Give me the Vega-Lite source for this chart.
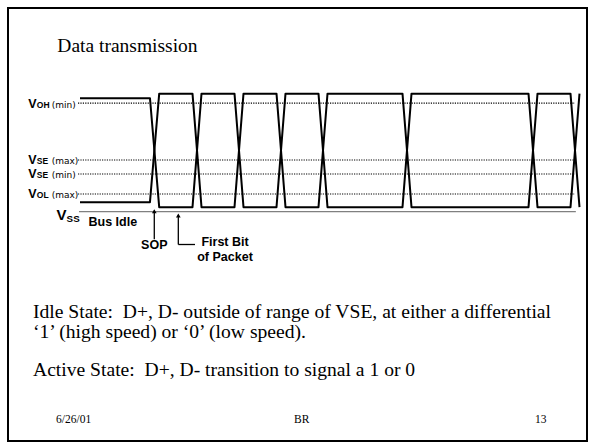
{
 "$schema": "https://vega.github.io/schema/vega-lite/v6.json",
 "width": 579,
 "height": 433,
 "autosize": {"type": "none"},
 "padding": {"left": 8, "top": 8, "right": 5, "bottom": 3},
 "background": "white",
 "config": {"view": {"stroke": "black", "strokeWidth": 2}},
 "datasets": {
  "wave": [
   {"w": "D+", "t": -1.786, "v": 11.35}, {"w": "D+", "t": -0.12, "v": 11.35}, {"w": "D+", "t": 0.1, "v": 0.45},
   {"w": "D+", "t": 0.893, "v": 0.45}, {"w": "D+", "t": 1.107, "v": 11.8}, {"w": "D+", "t": 1.893, "v": 11.8},
   {"w": "D+", "t": 2.107, "v": 0.45}, {"w": "D+", "t": 2.893, "v": 0.45}, {"w": "D+", "t": 3.107, "v": 11.8},
   {"w": "D+", "t": 3.893, "v": 11.8}, {"w": "D+", "t": 4.107, "v": 0.45}, {"w": "D+", "t": 5.893, "v": 0.45},
   {"w": "D+", "t": 6.107, "v": 11.8}, {"w": "D+", "t": 8.893, "v": 11.8}, {"w": "D+", "t": 9.107, "v": 0.45},
   {"w": "D+", "t": 9.893, "v": 0.45}, {"w": "D+", "t": 10.107, "v": 11.8},
   {"w": "D-", "t": -1.786, "v": 0.95}, {"w": "D-", "t": -0.12, "v": 0.95}, {"w": "D-", "t": 0.1, "v": 11.8},
   {"w": "D-", "t": 0.893, "v": 11.8}, {"w": "D-", "t": 1.107, "v": 0.45}, {"w": "D-", "t": 1.893, "v": 0.45},
   {"w": "D-", "t": 2.107, "v": 11.8}, {"w": "D-", "t": 2.893, "v": 11.8}, {"w": "D-", "t": 3.107, "v": 0.45},
   {"w": "D-", "t": 3.893, "v": 0.45}, {"w": "D-", "t": 4.107, "v": 11.8}, {"w": "D-", "t": 5.893, "v": 11.8},
   {"w": "D-", "t": 6.107, "v": 0.45}, {"w": "D-", "t": 8.893, "v": 0.45}, {"w": "D-", "t": 9.107, "v": 11.8},
   {"w": "D-", "t": 9.893, "v": 11.8}, {"w": "D-", "t": 10.107, "v": 0.45}
  ],
  "levels": [
   {"name": "VOH (min)", "v": 10.85, "sub": "OH", "suffix": "(min)"},
   {"name": "VSE (max)", "v": 5.17, "sub": "SE", "suffix": "(max)"},
   {"name": "VSE (min)", "v": 3.77, "sub": "SE", "suffix": "(min)"},
   {"name": "VOL (max)", "v": 1.77, "sub": "OL", "suffix": "(max)"}
  ],
  "vss": [{"name": "VSS", "t": -1.81, "v": 0, "t2": 10.02, "v2": 0}],
  "arrows": [
   {"t": -0.017, "v": -2.76, "t2": -0.017, "v2": 0.1},
   {"t": 0.555, "v": -3.28, "t2": 0.555, "v2": -0.35},
   {"t": 0.555, "v": -3.28, "t2": 0.952, "v2": -3.28}
  ],
  "heads": [{"t": -0.017, "v": 0.04}, {"t": 0.555, "v": -0.38}],
  "diag": [
   {"t": -1.005, "v": -1.4, "text": "Bus Idle"},
   {"t": -0.017, "v": -3.76, "text": "SOP"},
   {"t": 1.667, "v": -3.38, "text": "First Bit"},
   {"t": 1.667, "v": -4.88, "text": "of Packet"}
  ],
  "title": [{"t": -2.326, "v": 15.97, "text": "Data transmission"}],
  "body": [
   {"t": -2.905, "v": -10.66, "text": "Idle State: \u00a0D+, D- outside of range of VSE, at either a differential"},
   {"t": -2.905, "v": -12.66, "text": "\u20181\u2019 (high speed) or \u20180\u2019 (low speed)."},
   {"t": -2.905, "v": -16.4, "text": "Active State: \u00a0D+, D- transition to signal a 1 or 0"}
  ],
  "footer": [
   {"t": -2.357, "v": -21.16, "text": "6/26/01"},
   {"t": 3.31, "v": -21.16, "text": "BR"},
   {"t": 9.048, "v": -21.16, "text": "13"}
  ]
 },
 "layer": [
  {
   "data": {"name": "levels"},
   "mark": {"type": "rule", "color": "black", "strokeWidth": 1.2, "strokeDash": [1.2, 1.2]},
   "encoding": {
    "x": {"datum": -1.833, "type": "quantitative", "scale": {"domain": [-3.5, 10.2857], "nice": false, "zero": false}, "axis": null},
    "x2": {"datum": 10.0},
    "y": {"field": "v", "type": "quantitative", "scale": {"domain": [-22.93, 20.37], "nice": false, "zero": false}, "axis": null}
   }
  },
  {
   "data": {"name": "vss"},
   "mark": {"type": "rule", "color": "#808080", "strokeWidth": 1.2},
   "encoding": {
    "x": {"field": "t", "type": "quantitative", "scale": {"domain": [-3.5, 10.2857], "nice": false, "zero": false}, "axis": null},
    "x2": {"field": "t2"},
    "y": {"field": "v", "type": "quantitative", "scale": {"domain": [-22.93, 20.37], "nice": false, "zero": false}, "axis": null},
    "y2": {"field": "v2"}
   }
  },
  {
   "data": {"name": "wave"},
   "mark": {"type": "line", "color": "black", "strokeWidth": 2, "strokeJoin": "round"},
   "encoding": {
    "x": {"field": "t", "type": "quantitative", "scale": {"domain": [-3.5, 10.2857], "nice": false, "zero": false}, "axis": null},
    "y": {"field": "v", "type": "quantitative", "scale": {"domain": [-22.93, 20.37], "nice": false, "zero": false}, "axis": null},
    "detail": {"field": "w", "type": "nominal"}
   }
  },
  {
   "data": {"name": "arrows"},
   "mark": {"type": "rule", "color": "black", "strokeWidth": 1.3},
   "encoding": {
    "x": {"field": "t", "type": "quantitative", "scale": {"domain": [-3.5, 10.2857], "nice": false, "zero": false}, "axis": null},
    "x2": {"field": "t2"},
    "y": {"field": "v", "type": "quantitative", "scale": {"domain": [-22.93, 20.37], "nice": false, "zero": false}, "axis": null},
    "y2": {"field": "v2"}
   }
  },
  {
   "data": {"name": "heads"},
   "mark": {"type": "point", "shape": "triangle-up", "filled": true, "color": "black", "size": 22, "opacity": 1},
   "encoding": {
    "x": {"field": "t", "type": "quantitative", "scale": {"domain": [-3.5, 10.2857], "nice": false, "zero": false}, "axis": null},
    "y": {"field": "v", "type": "quantitative", "scale": {"domain": [-22.93, 20.37], "nice": false, "zero": false}, "axis": null}
   }
  },
  {
   "data": {"name": "levels"},
   "mark": {"type": "text", "font": "Liberation Sans", "fontWeight": "bold", "fontSize": 12.5, "align": "left", "baseline": "alphabetic", "dy": 4.3, "color": "black", "text": "V"},
   "encoding": {
    "x": {"datum": -3.017, "type": "quantitative", "scale": {"domain": [-3.5, 10.2857], "nice": false, "zero": false}, "axis": null},
    "y": {"field": "v", "type": "quantitative", "scale": {"domain": [-22.93, 20.37], "nice": false, "zero": false}, "axis": null}
   }
  },
  {
   "data": {"name": "levels"},
   "mark": {"type": "text", "font": "Liberation Sans", "fontWeight": "bold", "fontSize": 8.5, "align": "left", "baseline": "alphabetic", "dx": 8.5, "dy": 4.3, "color": "black"},
   "encoding": {
    "x": {"datum": -3.017, "type": "quantitative", "scale": {"domain": [-3.5, 10.2857], "nice": false, "zero": false}, "axis": null},
    "y": {"field": "v", "type": "quantitative", "scale": {"domain": [-22.93, 20.37], "nice": false, "zero": false}, "axis": null},
    "text": {"field": "sub"}
   }
  },
  {
   "data": {"name": "levels"},
   "mark": {"type": "text", "font": "DejaVu Sans", "fontSize": 9, "align": "left", "baseline": "alphabetic", "dx": 23.4, "dy": 4.3, "color": "black"},
   "encoding": {
    "x": {"datum": -3.017, "type": "quantitative", "scale": {"domain": [-3.5, 10.2857], "nice": false, "zero": false}, "axis": null},
    "y": {"field": "v", "type": "quantitative", "scale": {"domain": [-22.93, 20.37], "nice": false, "zero": false}, "axis": null},
    "text": {"field": "suffix"}
   }
  },
  {
   "data": {"name": "vss"},
   "mark": {"type": "text", "font": "Liberation Sans", "fontWeight": "bold", "fontSize": 15, "align": "left", "baseline": "alphabetic", "dy": 8.5, "color": "black", "text": "V"},
   "encoding": {
    "x": {"datum": -2.343, "type": "quantitative", "scale": {"domain": [-3.5, 10.2857], "nice": false, "zero": false}, "axis": null},
    "y": {"field": "v", "type": "quantitative", "scale": {"domain": [-22.93, 20.37], "nice": false, "zero": false}, "axis": null}
   }
  },
  {
   "data": {"name": "vss"},
   "mark": {"type": "text", "font": "Liberation Sans", "fontWeight": "bold", "fontSize": 9.8, "align": "left", "baseline": "alphabetic", "dx": 10, "dy": 10, "color": "black", "text": "SS"},
   "encoding": {
    "x": {"datum": -2.343, "type": "quantitative", "scale": {"domain": [-3.5, 10.2857], "nice": false, "zero": false}, "axis": null},
    "y": {"field": "v", "type": "quantitative", "scale": {"domain": [-22.93, 20.37], "nice": false, "zero": false}, "axis": null}
   }
  },
  {
   "data": {"name": "diag"},
   "mark": {"type": "text", "font": "Liberation Sans", "fontWeight": "bold", "fontSize": 12.5, "align": "center", "baseline": "alphabetic", "color": "black"},
   "encoding": {
    "x": {"field": "t", "type": "quantitative", "scale": {"domain": [-3.5, 10.2857], "nice": false, "zero": false}, "axis": null},
    "y": {"field": "v", "type": "quantitative", "scale": {"domain": [-22.93, 20.37], "nice": false, "zero": false}, "axis": null},
    "text": {"field": "text"}
   }
  },
  {
   "data": {"name": "title"},
   "mark": {"type": "text", "font": "Liberation Serif", "fontSize": 19.5, "align": "left", "baseline": "alphabetic", "color": "black"},
   "encoding": {
    "x": {"field": "t", "type": "quantitative", "scale": {"domain": [-3.5, 10.2857], "nice": false, "zero": false}, "axis": null},
    "y": {"field": "v", "type": "quantitative", "scale": {"domain": [-22.93, 20.37], "nice": false, "zero": false}, "axis": null},
    "text": {"field": "text"}
   }
  },
  {
   "data": {"name": "body"},
   "mark": {"type": "text", "font": "Liberation Serif", "fontSize": 19.6, "align": "left", "baseline": "alphabetic", "color": "black"},
   "encoding": {
    "x": {"field": "t", "type": "quantitative", "scale": {"domain": [-3.5, 10.2857], "nice": false, "zero": false}, "axis": null},
    "y": {"field": "v", "type": "quantitative", "scale": {"domain": [-22.93, 20.37], "nice": false, "zero": false}, "axis": null},
    "text": {"field": "text"}
   }
  },
  {
   "data": {"name": "footer"},
   "mark": {"type": "text", "font": "Liberation Serif", "fontSize": 11.5, "align": "left", "baseline": "alphabetic", "color": "black"},
   "encoding": {
    "x": {"field": "t", "type": "quantitative", "scale": {"domain": [-3.5, 10.2857], "nice": false, "zero": false}, "axis": null},
    "y": {"field": "v", "type": "quantitative", "scale": {"domain": [-22.93, 20.37], "nice": false, "zero": false}, "axis": null},
    "text": {"field": "text"}
   }
  }
 ]
}
